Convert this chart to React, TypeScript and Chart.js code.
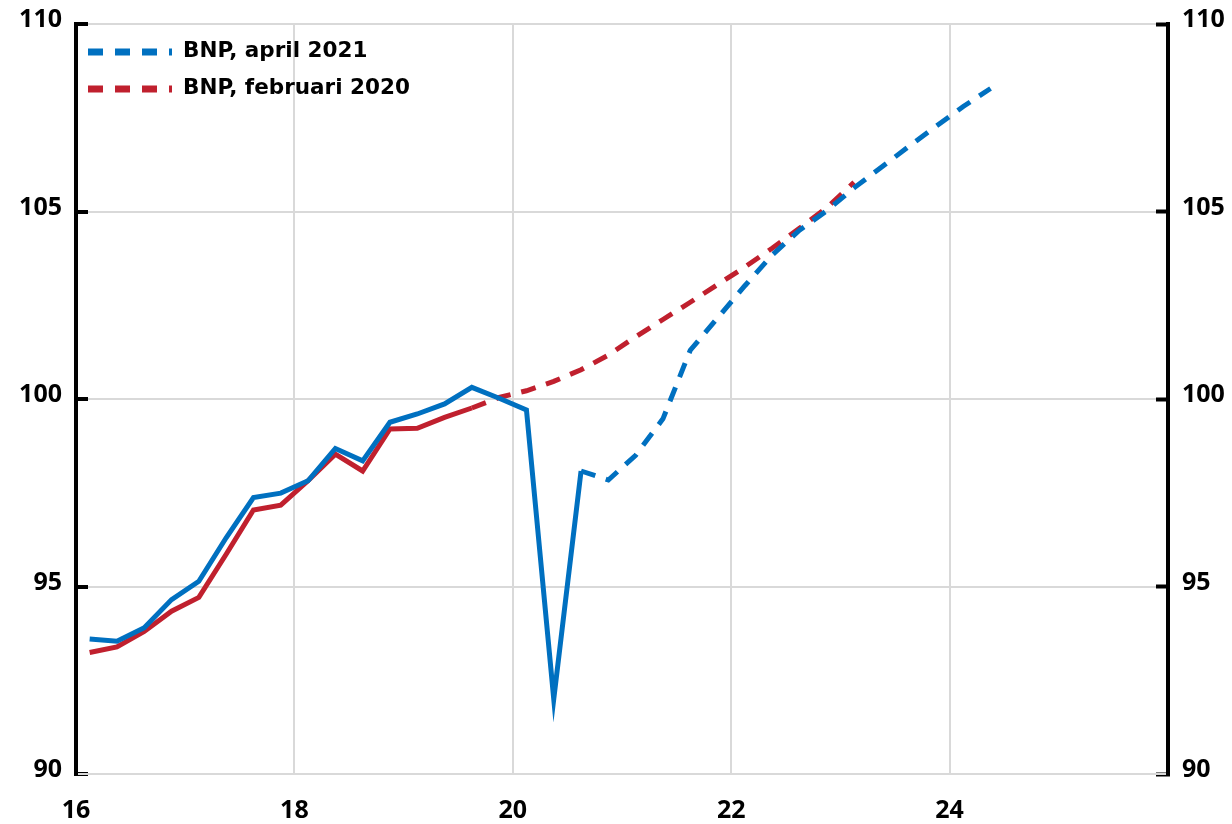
import { useEffect, useRef } from 'react';
import { Chart, registerables } from 'chart.js';

Chart.register(...registerables);

// ---- Data (index, 2019 = 100) ----
const blueActualQuarters = ['2016K1', '2016K2', '2016K3', '2016K4', '2017K1', '2017K2', '2017K3', '2017K4', '2018K1', '2018K2', '2018K3', '2018K4', '2019K1', '2019K2', '2019K3', '2019K4', '2020K1', '2020K2', '2020K3'];
const blueActualValues = [93.6, 93.54, 93.9, 94.65, 95.14, 96.3, 97.37, 97.49, 97.82, 98.68, 98.35, 99.38, 99.6, 99.87, 100.31, 100.02, 99.71, 92.0, 98.08];

const blueForecastQuarters = ['2020K3', '2020K4', '2021K1', '2021K2', '2021K3', '2021K4', '2022K1', '2022K2', '2022K3', '2022K4', '2023K1', '2023K2', '2023K3', '2023K4', '2024K1', '2024K2'];
const blueForecastValues = [98.08, 97.84, 98.5, 99.47, 101.3, 102.16, 103.02, 103.84, 104.5, 105.02, 105.63, 106.18, 106.73, 107.27, 107.8, 108.28];

const redActualQuarters = ['2016K1', '2016K2', '2016K3', '2016K4', '2017K1', '2017K2', '2017K3', '2017K4', '2018K1', '2018K2', '2018K3', '2018K4', '2019K1', '2019K2', '2019K3'];
const redActualValues = [93.24, 93.39, 93.8, 94.34, 94.71, 95.86, 97.04, 97.17, 97.82, 98.53, 98.08, 99.2, 99.22, 99.51, 99.76];

const redForecastQuarters = ['2019K3', '2019K4', '2020K1', '2020K2', '2020K3', '2020K4', '2021K1', '2021K2', '2021K3', '2021K4', '2022K1', '2022K2', '2022K3', '2022K4', '2023K1'];
const redForecastValues = [99.76, 100.04, 100.22, 100.47, 100.78, 101.17, 101.66, 102.12, 102.58, 103.05, 103.52, 104.02, 104.55, 105.1, 105.78];

const legendLabels = ['BNP, april 2021', 'BNP, februari 2020'];

const xMin = 16;
const xMax = 26;
const xStep = 2;
const yMin = 90;
const yMax = 110;
const yStep = 5;

const BLUE = '#0070C0';
const RED = '#C0202E';
const GRID = '#d9d9d9';

// quarter "2016K1" -> 16.125 (middle of the quarter, years shown as two digits)
const qx = (q: string) => Number(q.slice(2, 4)) + (Number(q.slice(5)) - 0.5) / 4;
const toPoints = (qs: string[], vs: number[]) => qs.map((q, i) => ({ x: qx(q), y: vs[i] }));

const tickFont = { family: '"Open Sans", "Liberation Sans", sans-serif', size: 25, weight: 'bold' as const };

const insideLegend = {
  id: 'insideLegend',
  afterDatasetsDraw(chart: any) {
    const { ctx, chartArea } = chart;
    const items = [chart.data.datasets[1], chart.data.datasets[3]];
    ctx.save();
    items.forEach((ds: any, i: number) => {
      const y = chartArea.top + 28 + i * 37;
      ctx.beginPath();
      ctx.setLineDash([15, 12]);
      ctx.lineCap = 'butt';
      ctx.lineWidth = 7;
      ctx.strokeStyle = ds.borderColor;
      ctx.moveTo(chartArea.left + 12, y);
      ctx.lineTo(chartArea.left + 96, y);
      ctx.stroke();
      ctx.setLineDash([]);
      ctx.fillStyle = '#000';
      ctx.font = 'bold 21.5px "DejaVu Sans", sans-serif';
      ctx.textAlign = 'left';
      ctx.textBaseline = 'alphabetic';
      ctx.fillText(ds.label, chartArea.left + 107, y + 4.5);
    });
    ctx.restore();
  },
};

export default function App() {
  const canvasRef = useRef<HTMLCanvasElement | null>(null);

  useEffect(() => {
    if (!canvasRef.current) return;
    const lineBase = {
      pointRadius: 0,
      pointHoverRadius: 0,
      borderWidth: 5,
      tension: 0,
      fill: false,
      borderJoinStyle: 'miter' as const,
      borderCapStyle: 'butt' as const,
    };
    const chart = new Chart(canvasRef.current, {
      type: 'line',
      data: {
        datasets: [
          { ...lineBase, label: 'BNP, april 2021 (utfall)', data: toPoints(blueActualQuarters, blueActualValues), borderColor: BLUE, backgroundColor: BLUE },
          { ...lineBase, label: legendLabels[0], data: toPoints(blueForecastQuarters, blueForecastValues), borderColor: BLUE, backgroundColor: BLUE, borderDash: [15, 11] },
          { ...lineBase, label: 'BNP, februari 2020 (utfall)', data: toPoints(redActualQuarters, redActualValues), borderColor: RED, backgroundColor: RED },
          { ...lineBase, label: legendLabels[1], data: toPoints(redForecastQuarters, redForecastValues), borderColor: RED, backgroundColor: RED, borderDash: [15, 11] },
        ],
      },
      options: {
        responsive: false,
        animation: false,
        devicePixelRatio: 1,
        layout: { padding: { top: 24, left: 0, right: 0, bottom: 0 } },
        plugins: {
          legend: { display: false },
          tooltip: { enabled: false },
        },
        events: [],
        scales: {
          x: {
            type: 'linear',
            position: 'bottom',
            min: xMin,
            max: xMax,
            afterFit: (s: any) => {
              s.height = 50;
              s.paddingLeft = 0;
              s.paddingRight = 0;
            },
            ticks: {
              stepSize: xStep,
              padding: 22,
              color: '#000',
              font: tickFont,
              maxRotation: 0,
              autoSkip: false,
              callback: (v: any) => (v === xMax ? '' : String(v)),
            },
            grid: {
              drawTicks: false,
              lineWidth: 2,
              color: (c: any) => (c.tick && (c.tick.value === xMin || c.tick.value === xMax) ? 'rgba(0,0,0,0)' : GRID),
            },
            border: { color: GRID, width: 2 },
          },
          y: {
            type: 'linear',
            position: 'left',
            min: yMin,
            max: yMax,
            afterFit: (s: any) => {
              s.width = 76;
              s.paddingTop = 0;
              s.paddingBottom = 0;
            },
            ticks: { stepSize: yStep, padding: 26, labelOffset: -4, color: '#000', font: tickFont },
            grid: { color: GRID, lineWidth: 2, drawTicks: true, tickLength: -12, tickColor: '#000', tickWidth: 4 },
            border: { color: '#000', width: 4 },
          },
          y2: {
            type: 'linear',
            position: 'right',
            min: yMin,
            max: yMax,
            afterFit: (s: any) => {
              s.width = 64;
              s.paddingTop = 0;
              s.paddingBottom = 0;
            },
            ticks: { stepSize: yStep, padding: 26, labelOffset: -4, color: '#000', font: tickFont },
            grid: { drawOnChartArea: false, drawTicks: true, tickLength: -12, tickColor: '#000', tickWidth: 4 },
            border: { color: '#000', width: 4 },
          },
        },
      },
      plugins: [insideLegend],
    });
    return () => chart.destroy();
  }, []);

  return (
    <div style={{ position: 'absolute', left: 0, top: 0, width: 1232, height: 824, background: '#fff' }}>
      <canvas ref={canvasRef} width={1232} height={824} style={{ display: 'block' }} />
    </div>
  );
}
